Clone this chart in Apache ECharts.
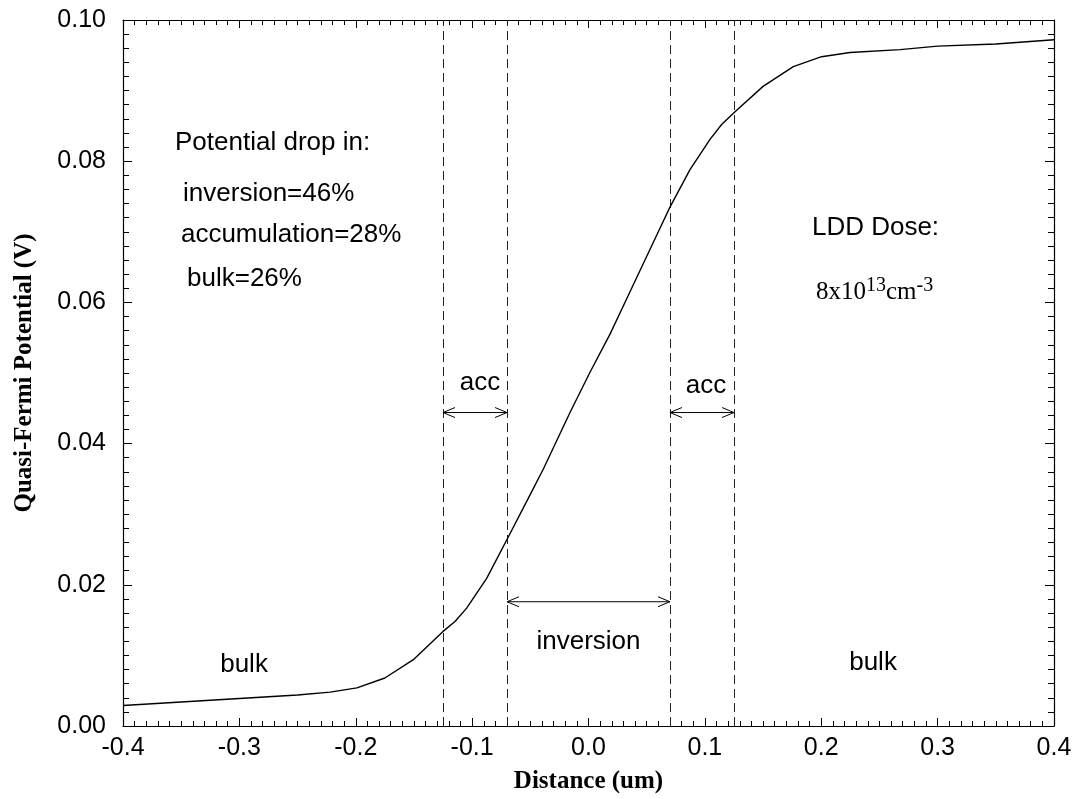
<!DOCTYPE html>
<html>
<head>
<meta charset="utf-8">
<script src="https://cdn.jsdelivr.net/npm/echarts@6/dist/echarts.min.js"></script>
<style>html,body{margin:0;padding:0;background:#fff}#c{width:1076px;height:799px}</style>
</head>
<body>
<div id="c"></div>
<script>
// Curve data: distance (um) and quasi-Fermi potential (V)
var distance = [-0.4, -0.3, -0.25, -0.222, -0.199, -0.175, -0.1505, -0.125, -0.1147, -0.1047, -0.0875, -0.0695, -0.05, -0.0388, -0.0159, 0.0013, 0.0185, 0.0385, 0.06, 0.07, 0.0872, 0.1044, 0.1144, 0.1259, 0.15, 0.176, 0.2003, 0.2247, 0.2677, 0.3, 0.35, 0.4];
var potential = [0.0029, 0.0039, 0.0044, 0.0048, 0.0054, 0.0068, 0.0094, 0.0134, 0.0148, 0.0167, 0.0209, 0.0266, 0.0328, 0.0364, 0.0444, 0.0501, 0.0555, 0.0625, 0.0700, 0.0735, 0.0788, 0.0831, 0.0852, 0.0870, 0.0906, 0.0934, 0.0948, 0.0954, 0.0958, 0.0963, 0.0966, 0.0972];
// Region boundaries (dashed lines)
var boundaries = [-0.125, -0.07, 0.07, 0.125];
// Double-headed arrows: [x1, x2, y]
var arrows = [[-0.125, -0.07, 0.0444], [0.07, 0.125, 0.0444], [-0.07, 0.07, 0.0176]];
// Annotations: [x, y, text, align]
var notes = [
  [-0.3553, 0.0826, 'Potential drop in:', 'left'],
  [-0.3484, 0.0754, 'inversion=46%', 'left'],
  [-0.3502, 0.0696, 'accumulation=28%', 'left'],
  [-0.345, 0.0633, 'bulk=26%', 'left'],
  [0.192, 0.0706, 'LDD Dose:', 'left'],
  [-0.0932, 0.0486, 'acc', 'center'],
  [0.101, 0.0482, 'acc', 'center'],
  [0.0, 0.0119, 'inversion', 'center'],
  [-0.296, 0.0086, 'bulk', 'center'],
  [0.2445, 0.009, 'bulk', 'center']
];
var doseNote = [0.1955, 0.0617];
var xTicks = ['-0.4', '-0.3', '-0.2', '-0.1', '0.0', '0.1', '0.2', '0.3', '0.4'];
var yTicks = ['0.00', '0.02', '0.04', '0.06', '0.08', '0.10'];

var chart = echarts.init(document.getElementById('c'), null, {renderer: 'canvas'});
var AR = 'Liberation Sans, Arial, sans-serif';
var TR = 'Liberation Serif, Times New Roman, serif';

function xAxisDef(pos, showLabel) {
  return {
    type: 'value', position: pos, min: -0.4, max: 0.4, interval: 0.1,
    axisLine: {show: true, onZero: false, lineStyle: {color: '#000', width: 1.2}},
    axisTick: {show: true, inside: true, length: 8, lineStyle: {color: '#000', width: 1}},
    minorTick: {show: true, splitNumber: 10, length: 5, lineStyle: {color: '#000', width: 1}},
    splitLine: {show: false}, minorSplitLine: {show: false},
    axisLabel: {show: showLabel, color: '#000', fontFamily: AR, fontSize: 25, margin: 10,
      formatter: function (v) { var i = Math.round((v + 0.4) / 0.1); return xTicks[i]; }},
    name: showLabel ? 'Distance (um)' : '', nameLocation: 'middle', nameGap: 43,
    nameTextStyle: {fontFamily: TR, fontWeight: 'bold', fontSize: 25, color: '#000'}
  };
}
function yAxisDef(pos, showLabel) {
  return {
    type: 'value', position: pos, min: 0, max: 0.1, interval: 0.02,
    axisLine: {show: true, onZero: false, lineStyle: {color: '#000', width: 1.2}},
    axisTick: {show: true, inside: true, length: 9, lineStyle: {color: '#000', width: 1}},
    minorTick: {show: true, splitNumber: 10, length: 6, lineStyle: {color: '#000', width: 1}},
    splitLine: {show: false}, minorSplitLine: {show: false},
    axisLabel: {show: showLabel, color: '#000', fontFamily: AR, fontSize: 25, margin: 17,
      formatter: function (v) { var i = Math.round(v / 0.02); return yTicks[i]; }},
    name: showLabel ? 'Quasi-Fermi Potential (V)' : '', nameLocation: 'middle', nameGap: 86,
    nameTextStyle: {fontFamily: TR, fontWeight: 'bold', fontSize: 25, color: '#000'}
  };
}

var curve = distance.map(function (d, i) { return [d, potential[i]]; });

function chevron(api, x, y, dir) {
  var p = api.coord([x, y]);
  var L = 12, H = 5;
  return {type: 'polyline', shape: {points: [[p[0] + dir * L, p[1] - H], [p[0], p[1]], [p[0] + dir * L, p[1] + H]]},
    style: {stroke: '#000', fill: null, lineWidth: 1}};
}

var option = {
  animation: false,
  backgroundColor: '#fff',
  grid: {left: 123, right: 22, top: 20, bottom: 71, containLabel: false},
  xAxis: [xAxisDef('bottom', true), xAxisDef('top', false)],
  yAxis: [yAxisDef('left', true), yAxisDef('right', false)],
  series: [
    {
      type: 'line', data: curve, showSymbol: false, symbol: 'none', smooth: false,
      lineStyle: {color: '#000', width: 1.4}, z: 5,
      markLine: {
        silent: true, symbol: ['none', 'none'], label: {show: false}, precision: 4,
        lineStyle: {color: '#222', type: [9, 5], width: 1},
        data: boundaries.map(function (b) { return {xAxis: b}; })
      }
    },
    {
      type: 'custom', data: arrows, z: 6,
      renderItem: function (params, api) {
        var x1 = api.value(0), x2 = api.value(1), y = api.value(2);
        var a = api.coord([x1, y]), b = api.coord([x2, y]);
        return {type: 'group', children: [
          {type: 'line', shape: {x1: a[0], y1: a[1], x2: b[0], y2: b[1]}, style: {stroke: '#000', lineWidth: 1}},
          chevron(api, x1, y, 1), chevron(api, x2, y, -1)
        ]};
      }
    },
    {
      type: 'custom', data: notes, z: 7,
      renderItem: function (params, api) {
        var n = notes[params.dataIndex];
        var p = api.coord([n[0], n[1]]);
        return {type: 'text', x: p[0], y: p[1], style: {text: n[2], fill: '#000',
          font: '26px ' + AR, textAlign: n[3], textVerticalAlign: 'middle'}};
      }
    },
    {
      type: 'custom', data: [doseNote], z: 7,
      renderItem: function (params, api) {
        var p = api.coord([api.value(0), api.value(1)]);
        return {type: 'text', x: p[0], y: p[1], style: {
          text: '{m|8x10}{s|13}{m|cm}{s|-3}', fill: '#000', textAlign: 'left', textVerticalAlign: 'middle',
          rich: {
            m: {fontFamily: TR, fontSize: 25, lineHeight: 30, verticalAlign: 'bottom', fill: '#000'},
            s: {fontFamily: TR, fontSize: 20, lineHeight: 16, verticalAlign: 'top', fill: '#000'}
          }}};
      }
    }
  ]
};
chart.setOption(option);
</script>
</body>
</html>
